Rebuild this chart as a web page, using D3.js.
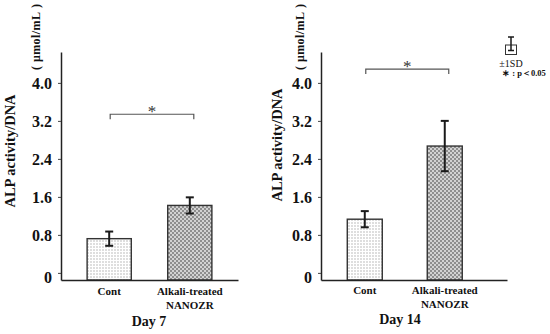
<!DOCTYPE html>
<html>
<head>
<meta charset="utf-8">
<script src="https://cdn.jsdelivr.net/npm/d3@7"></script>
<style>
  body { margin: 0; background: #fff; }
  svg { display: block; }
  text { font-family: "Liberation Serif", "Times New Roman", serif; fill: #111; }
</style>
</head>
<body>
<svg id="chart" width="550" height="334"></svg>
<script>
// data
const groups = ["Cont", "Alkali-treated|NANOZR"];
const day7Means = [0.72, 1.42];
const day7SD = [0.15, 0.17];
const day14Means = [1.13, 2.67];
const day14SD = [0.17, 0.53];
const yTicks = [0, 0.8, 1.6, 2.4, 3.2, 4.0];
const sigLevels = [3.34, 4.29];
const days = ["Day 7", "Day 14"];

const svg = d3.select("#chart");
const defs = svg.append("defs");

// light dotted fill for Cont
const dots = defs.append("pattern").attr("id", "dots")
    .attr("width", 3).attr("height", 3).attr("patternUnits", "userSpaceOnUse");
dots.append("rect").attr("width", 3).attr("height", 3).attr("fill", "#fff");
dots.append("rect").attr("width", 2).attr("height", 2).attr("fill", "#dedede");

// grey checker for alkali-treated
const check = defs.append("pattern").attr("id", "check")
    .attr("width", 4).attr("height", 4).attr("patternUnits", "userSpaceOnUse");
check.append("rect").attr("width", 4).attr("height", 4).attr("fill", "#d2d2d2");
check.append("rect").attr("width", 2).attr("height", 2).attr("fill", "#8e8e8e");
check.append("rect").attr("x", 2).attr("y", 2).attr("width", 2).attr("height", 2).attr("fill", "#8e8e8e");

const fills = ["url(#dots)", "url(#check)"];

const y = d3.scaleLinear().domain([-0.15, 4.65]).range([280, 52]);

const panels = [
    { means: day7Means, sds: day7SD, sig: sigLevels[0], day: days[0],
      x0: 61, x1: 238, pi: 0.452, po: 0.324, align: 0.5,
      titleX: 10, titleY: 151, unitX: 36, dayX: 149, dayY: 326, catY: 295 },
    { means: day14Means, sds: day14SD, sig: sigLevels[1], day: days[1],
      x0: 321, x1: 507, pi: 0.5625, po: 0.444, align: 0.37,
      titleX: 277, titleY: 145, unitX: 300, dayX: 400, dayY: 324, catY: 294 }
];

panels.forEach(p => {
    const g = svg.append("g");
    const x = d3.scaleBand().domain(groups).range([p.x0, p.x1])
        .paddingInner(p.pi).paddingOuter(p.po).align(p.align);
    const rows = groups.map((k, i) => ({ k, m: p.means[i], sd: p.sds[i], fill: fills[i] }));

    // bars
    g.selectAll(".bar").data(rows).enter().append("rect")
        .attr("x", d => x(d.k))
        .attr("y", d => y(d.m))
        .attr("width", x.bandwidth())
        .attr("height", d => y.range()[0] - y(d.m))
        .attr("fill", d => d.fill)
        .attr("stroke", "#333")
        .attr("stroke-width", 1.4);

    // error bars
    const eb = g.selectAll(".err").data(rows).enter().append("g")
        .attr("transform", d => `translate(${x(d.k) + x.bandwidth() / 2},0)`)
        .attr("stroke", "#1a1a1a").attr("stroke-width", 2);
    eb.append("line").attr("y1", d => y(d.m + d.sd)).attr("y2", d => y(d.m - d.sd));
    eb.append("line").attr("x1", -4).attr("x2", 4).attr("y1", d => y(d.m + d.sd)).attr("y2", d => y(d.m + d.sd));
    eb.append("line").attr("x1", -4).attr("x2", 4).attr("y1", d => y(d.m - d.sd)).attr("y2", d => y(d.m - d.sd));

    // y axis
    const ya = g.append("g").attr("transform", `translate(${p.x0},0)`)
        .call(d3.axisLeft(y).tickValues(yTicks).tickSize(3).tickSizeOuter(0).tickPadding(6)
            .tickFormat(d => d === 0 ? "0" : d.toFixed(1)));
    ya.select(".domain").attr("stroke", "#222").attr("stroke-width", 1.5);
    ya.selectAll(".tick line").attr("stroke", "#444");
    ya.selectAll(".tick text")
        .attr("dy", d => d === 0 ? "0.6em" : "0.34em")
        .style("font-family", "'Liberation Serif', 'Times New Roman', serif")
        .style("font-size", "16px").style("font-weight", "bold").attr("fill", "#111");

    // x axis
    const xa = g.append("g").attr("transform", `translate(0,${y.range()[0]})`)
        .call(d3.axisBottom(x).tickSize(0).tickSizeOuter(0).tickFormat(""));
    xa.select(".domain").attr("stroke", "#222").attr("stroke-width", 1.5);

    // category labels
    g.selectAll(".cat").data(rows).enter().append("text")
        .attr("x", d => x(d.k) + x.bandwidth() / 2)
        .attr("y", p.catY)
        .attr("text-anchor", "middle")
        .style("font-size", "11px").style("font-weight", "bold")
        .each(function(d) {
            const t = d3.select(this);
            d.k.split("|").forEach((line, i) => {
                t.append("tspan").attr("x", x(d.k) + x.bandwidth() / 2)
                    .attr("dy", i === 0 ? 0 : 14).text(line);
            });
        });

    // significance bracket
    const bx0 = x(groups[0]) + x.bandwidth() / 2 + 1;
    const bx1 = x(groups[1]) + x.bandwidth() / 2 + 4;
    const by = y(p.sig);
    g.append("path")
        .attr("d", `M${bx0},${by + 5}V${by}H${bx1}V${by + 5}`)
        .attr("fill", "none").attr("stroke", "#555").attr("stroke-width", 1.2);
    g.append("text").attr("x", (bx0 + bx1) / 2).attr("y", by + 3)
        .attr("text-anchor", "middle")
        .attr("opacity", 0.99)
        .style("fill", "#333")
        .style("font-size", "17px").text("*");

    // axis title + unit
    g.append("text")
        .attr("transform", `translate(${p.titleX},${p.titleY}) rotate(-90)`)
        .attr("text-anchor", "middle").attr("dy", "0.35em")
        .style("font-size", "14.5px").style("font-weight", "bold")
        .text("ALP activity/DNA");
    g.append("text")
        .attr("transform", `translate(${p.unitX},37) rotate(-90)`)
        .attr("text-anchor", "middle").attr("dy", "0.35em")
        .attr("textLength", 66).attr("lengthAdjust", "spacing")
        .style("font-size", "12px").style("font-weight", "bold")
        .text("(\u00a0μmol/mL\u00a0)");

    // day label
    g.append("text").attr("x", p.dayX).attr("y", p.dayY)
        .attr("text-anchor", "middle")
        .style("font-size", "14px").style("font-weight", "bold")
        .text(p.day);
});

// legend
const lg = svg.append("g");
lg.append("rect").attr("x", 505.5).attr("y", 45).attr("width", 11).attr("height", 9.5)
    .attr("fill", "#fff").attr("stroke", "#333").attr("stroke-width", 1);
lg.append("path").attr("d", "M508,37H514M511,37V50.5M508,50.5H514")
    .attr("fill", "none").attr("stroke", "#1a1a1a").attr("stroke-width", 1.5);
lg.append("text").attr("x", 511).attr("y", 67).attr("text-anchor", "middle")
    .style("font-size", "10px").text("±1SD");
lg.append("text").attr("x", 524).attr("y", 76).attr("text-anchor", "middle")
    .style("font-size", "8.5px").style("font-weight", "bold").text("\u2217 : p\uff1c0.05");
</script>
</body>
</html>
